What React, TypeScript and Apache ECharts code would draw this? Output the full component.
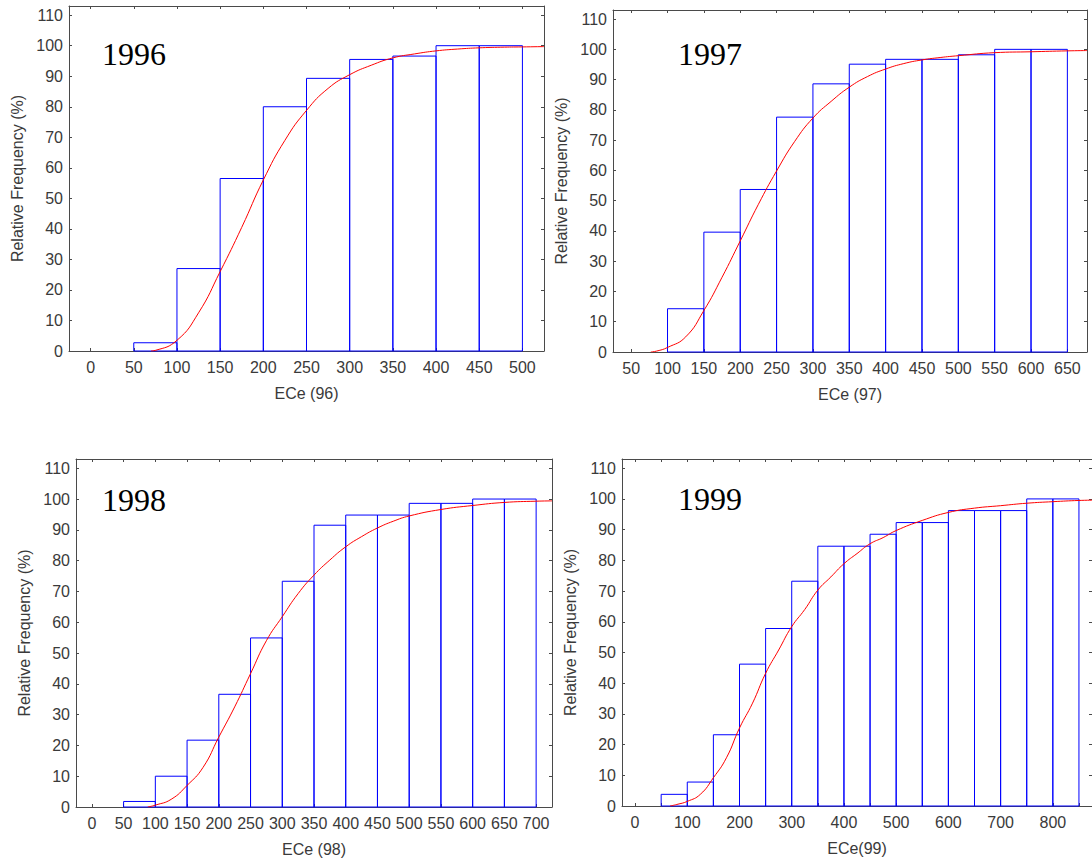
import React, { useEffect, useRef } from "react";
import * as echarts from "echarts";

// ---- 1996 ----
const edges1996 = [50, 100, 150, 200, 250, 300, 350, 400, 450, 500];
const freq1996 = [2.7, 27, 56.5, 80, 89.3, 95.5, 96.6, 100, 100];
const fitX1996 = [70, 75, 100, 125, 150, 175, 200, 225, 250, 275, 300, 325, 350, 375, 400, 425, 450, 475, 500, 525];
const fitY1996 = [0, 0.2, 3.5, 12.5, 26, 40.5, 56, 69, 78.8, 86, 90.5, 93.6, 96, 97.3, 98.3, 98.9, 99.3, 99.5, 99.6, 99.7];
const ticks1996 = [0, 50, 100, 150, 200, 250, 300, 350, 400, 450, 500];

// ---- 1997 ----
const edges1997 = [100, 150, 200, 250, 300, 350, 400, 450, 500, 550, 600, 650];
const freq1997 = [14.3, 39.6, 53.7, 77.6, 88.6, 95.1, 96.7, 96.7, 98.2, 100, 100];
const fitX1997 = [77, 85, 100, 125, 150, 175, 200, 225, 250, 275, 300, 325, 350, 375, 400, 425, 450, 475, 500, 550, 600, 650, 677];
const fitY1997 = [0, 0.3, 1.5, 5, 13.7, 24.7, 36.7, 48.8, 59.8, 69.6, 77.3, 82.8, 87.5, 91, 93.5, 95.3, 96.5, 97.3, 97.9, 98.9, 99.2, 99.5, 99.6];
const ticks1997 = [50, 100, 150, 200, 250, 300, 350, 400, 450, 500, 550, 600, 650];

// ---- 1998 ----
const edges1998 = [50, 100, 150, 200, 250, 300, 350, 400, 450, 500, 550, 600, 650, 700];
const freq1998 = [1.8, 10, 21.7, 36.6, 54.9, 73.3, 91.5, 94.8, 94.8, 98.6, 98.6, 100, 100];
const fitX1998 = [88, 100, 125, 150, 175, 200, 225, 250, 275, 300, 325, 350, 375, 400, 425, 450, 475, 500, 550, 600, 650, 700, 725];
const fitY1998 = [0, 0.6, 2.5, 7, 12.8, 22.7, 32.5, 43.3, 54, 61.8, 69.3, 75.3, 80.2, 84.5, 87.8, 90.6, 92.8, 94.5, 96.6, 97.9, 98.9, 99.3, 99.4];
const ticks1998 = [0, 50, 100, 150, 200, 250, 300, 350, 400, 450, 500, 550, 600, 650, 700];

// ---- 1999 ----
const edges1999 = [50, 100, 150, 200, 250, 300, 350, 400, 450, 500, 550, 600, 650, 700, 750, 800, 850];
const freq1999 = [3.8, 7.8, 23.2, 46.2, 57.8, 73.2, 84.6, 84.6, 88.5, 92.3, 92.3, 96.2, 96.2, 96.2, 100, 100];
const fitX1999 = [67, 80, 100, 125, 150, 175, 200, 225, 250, 275, 300, 325, 350, 375, 400, 425, 450, 475, 500, 550, 600, 650, 700, 750, 800, 850, 880];
const fitY1999 = [0, 0.5, 1.5, 3.8, 9.2, 15.7, 25.4, 33.5, 43.2, 50.8, 58.4, 64, 70.3, 74.6, 78.9, 82.2, 85.4, 87.4, 89.7, 93, 95.6, 97, 97.8, 98.6, 99.1, 99.5, 99.6];
const ticks1999 = [0, 50, 100, 150, 200, 250, 300, 350, 400, 450, 500, 550, 600, 650, 700, 750, 800, 850];
const labels1999 = [0, 100, 200, 300, 400, 500, 600, 700, 800];

const yTicks = [0, 10, 20, 30, 40, 50, 60, 70, 80, 90, 100, 110];

type Panel = {
  year: string;
  xName: string;
  edges: number[];
  freq: number[];
  fitX: number[];
  fitY: number[];
  xTicks: number[];
  xLabels: number[];
  xMin: number;
  xMax: number;
  grid: { left: number; top: number; width: number; height: number };
  yearPos: [number, number];
};

const panels: Panel[] = [
  {
    year: "1996", xName: "ECe (96)", edges: edges1996, freq: freq1996, fitX: fitX1996, fitY: fitY1996,
    xTicks: ticks1996, xLabels: ticks1996, xMin: -25, xMax: 525,
    grid: { left: 69, top: 6, width: 475, height: 345 }, yearPos: [102, 54],
  },
  {
    year: "1997", xName: "ECe (97)", edges: edges1997, freq: freq1997, fitX: fitX1997, fitY: fitY1997,
    xTicks: ticks1997, xLabels: ticks1997, xMin: 25, xMax: 677,
    grid: { left: 613, top: 10, width: 474, height: 342 }, yearPos: [678, 54],
  },
  {
    year: "1998", xName: "ECe (98)", edges: edges1998, freq: freq1998, fitX: fitX1998, fitY: fitY1998,
    xTicks: ticks1998, xLabels: ticks1998, xMin: -25, xMax: 725,
    grid: { left: 76, top: 459, width: 476, height: 348 }, yearPos: [102, 500],
  },
  {
    year: "1999", xName: "ECe(99)", edges: edges1999, freq: freq1999, fitX: fitX1999, fitY: fitY1999,
    xTicks: ticks1999, xLabels: labels1999, xMin: -25, xMax: 875,
    grid: { left: 622, top: 459, width: 475, height: 347 }, yearPos: [678, 499],
  },
];

const AXIS = "#4a4a4a";
const TEXT = "#3a3a3a";
const SANS = "'Liberation Sans', Arial, sans-serif";
const SERIF = "'Liberation Serif', 'Times New Roman', serif";
const FS = 16;

function buildOption() {
  const grid: any[] = [];
  const xAxis: any[] = [];
  const yAxis: any[] = [];
  const series: any[] = [];
  const graphic: any[] = [];

  panels.forEach((p, i) => {
    grid.push({ ...p.grid, containLabel: false });

    const xBase = {
      type: "value",
      gridIndex: i,
      min: p.xMin,
      max: p.xMax,
      splitLine: { show: false },
      axisLine: { show: true, onZero: false, lineStyle: { color: AXIS, width: 1 } },
      axisTick: { show: true, inside: true, length: 3, lineStyle: { color: AXIS }, customValues: p.xTicks },
    };
    xAxis.push({
      ...xBase,
      position: "bottom",
      name: p.xName,
      nameLocation: "middle",
      nameGap: 34,
      nameTextStyle: { color: TEXT, fontSize: FS, fontFamily: SANS },
      axisLabel: { show: true, color: TEXT, fontSize: FS, fontFamily: SANS, margin: 8, customValues: p.xLabels },
    });
    xAxis.push({ ...xBase, position: "top", axisLabel: { show: false } });

    const yBase = {
      type: "value",
      gridIndex: i,
      min: 0,
      max: 113,
      splitLine: { show: false },
      axisLine: { show: true, onZero: false, lineStyle: { color: AXIS, width: 1 } },
      axisTick: { show: true, inside: true, length: 3, lineStyle: { color: AXIS }, customValues: yTicks },
    };
    yAxis.push({
      ...yBase,
      position: "left",
      name: "Relative Frequency (%)",
      nameLocation: "middle",
      nameRotate: 90,
      nameGap: 44,
      nameTextStyle: { color: TEXT, fontSize: FS, fontFamily: SANS },
      axisLabel: { show: true, color: TEXT, fontSize: FS, fontFamily: SANS, margin: 6, customValues: yTicks },
    });
    yAxis.push({ ...yBase, position: "right", axisLabel: { show: false } });

    // histogram bins as outlined rectangles [lower, upper, cumulative %]
    const bins = p.freq.map((f, k) => [p.edges[k], p.edges[k + 1], f]);
    series.push({
      type: "custom",
      xAxisIndex: 2 * i,
      yAxisIndex: 2 * i,
      data: bins,
      encode: { x: [0, 1], y: 2 },
      z: 2,
      renderItem: (_params: any, api: any) => {
        const x0 = api.value(0);
        const x1 = api.value(1);
        const y = api.value(2);
        const a = api.coord([x0, y]);
        const b = api.coord([x1, 0]);
        return {
          type: "rect",
          shape: { x: a[0], y: a[1], width: b[0] - a[0], height: b[1] - a[1] },
          style: { fill: "none", stroke: "#0000ff", lineWidth: 1 },
        };
      },
    });

    // fitted cumulative curve
    series.push({
      type: "line",
      xAxisIndex: 2 * i,
      yAxisIndex: 2 * i,
      data: p.fitX.map((x, k) => [x, p.fitY[k]]),
      smooth: true,
      showSymbol: false,
      symbol: "none",
      clip: true,
      z: 3,
      lineStyle: { color: "#ff0000", width: 1 },
    });

    graphic.push({
      type: "text",
      x: p.yearPos[0],
      y: p.yearPos[1],
      style: {
        text: p.year,
        fill: "#000000",
        font: `32px ${SERIF}`,
        verticalAlign: "middle",
        align: "left",
      },
      z: 10,
    });
  });

  return {
    animation: false,
    backgroundColor: "#ffffff",
    grid,
    xAxis,
    yAxis,
    series,
    graphic,
  };
}

export default function App() {
  const ref = useRef<HTMLDivElement>(null);

  useEffect(() => {
    if (!ref.current) return;
    const chart = echarts.init(ref.current, undefined, { renderer: "svg" });
    chart.setOption(buildOption() as any);
    return () => chart.dispose();
  }, []);

  return (
    <div
      style={{
        position: "absolute",
        left: 0,
        top: 0,
        width: 1092,
        height: 859,
        overflow: "hidden",
        background: "#ffffff",
      }}
    >
      <div ref={ref} style={{ width: 1092, height: 859 }} />
    </div>
  );
}
